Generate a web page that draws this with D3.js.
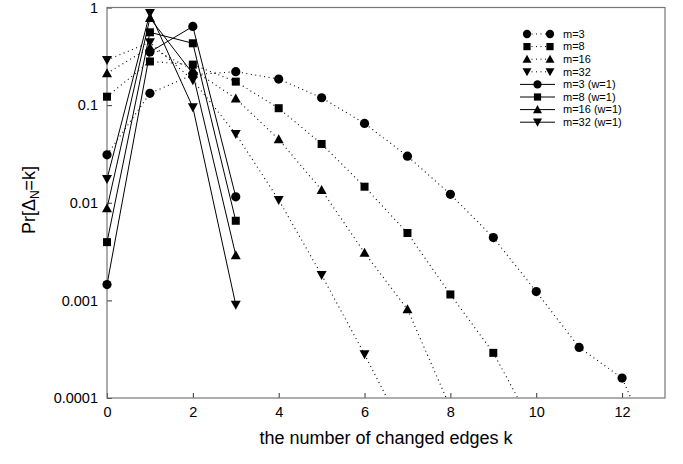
<!DOCTYPE html>
<html><head><meta charset="utf-8">
<script src="https://cdn.jsdelivr.net/npm/d3@7"></script>
<style>body{margin:0;background:#fff}svg{display:block;font-family:"Liberation Sans",Arial,sans-serif}</style>
</head><body><svg id="c" width="683" height="464"></svg>
<script>
// k values (x)
const kDot3  = [0,1,2,3,4,5,6,7,8,9,10,11,12,13];
const vDot3  = [0.031,0.132,0.205,0.22,0.185,0.119,0.065,0.030,0.0122,0.0044,0.00123,0.00033,0.00016,0.000016];
const kDot8  = [0,1,2,3,4,5,6,7,8,9,10];
const vDot8  = [0.122,0.28,0.26,0.174,0.093,0.040,0.0146,0.0049,0.00115,0.00029,0.000045];
const kDot16 = [0,1,2,3,4,5,6,7,8];
const vDot16 = [0.212,0.39,0.23,0.117,0.0446,0.0135,0.00307,0.00081,0.00008];
const kDot32 = [0,1,2,3,4,5,6,7];
const vDot32 = [0.29,0.44,0.18,0.0506,0.0107,0.00182,0.00028,0.000039];
const kW = [0,1,2,3];
const vW3  = [0.00145,0.35,0.64,0.0115];
const vW8  = [0.00395,0.557,0.43,0.00654];
const vW16 = [0.0088,0.78,0.21,0.0029];
const vW32 = [0.0175,0.88,0.095,0.0009];
const xTicks = [0,2,4,6,8,10,12];
const yTicks = [1,0.1,0.01,0.001,0.0001];
const yTickLabels = ["1","0.1","0.01","0.001","0.0001"];
const seriesNames = ["m=3","m=8","m=16","m=32","m=3 (w=1)","m=8 (w=1)","m=16 (w=1)","m=32 (w=1)"];

const series = [
  {name:seriesNames[0], k:kDot3, v:vDot3, sym:"circle", dotted:true},
  {name:seriesNames[1], k:kDot8, v:vDot8, sym:"square", dotted:true},
  {name:seriesNames[2], k:kDot16, v:vDot16, sym:"up", dotted:true},
  {name:seriesNames[3], k:kDot32, v:vDot32, sym:"down", dotted:true},
  {name:seriesNames[4], k:kW, v:vW3, sym:"circle", dotted:false},
  {name:seriesNames[5], k:kW, v:vW8, sym:"square", dotted:false},
  {name:seriesNames[6], k:kW, v:vW16, sym:"up", dotted:false},
  {name:seriesNames[7], k:kW, v:vW32, sym:"down", dotted:false}
];

const L=107, R=665, T=7.5, B=398;
const svg = d3.select("#c");
const x = d3.scaleLinear().domain([0,13]).range([L,R]);
const y = d3.scaleLog().domain([0.0001,1]).range([B,T]);

svg.append("defs").append("clipPath").attr("id","clip")
  .append("rect").attr("x",L).attr("y",T).attr("width",R-L).attr("height",B-T);

// axes
const xa = svg.append("g").attr("transform",`translate(0,${B})`)
  .call(d3.axisBottom(x).tickValues(xTicks).tickSize(-5).tickPadding(9).tickFormat(d3.format("d")));
const ya = svg.append("g").attr("transform",`translate(${L},0)`)
  .call(d3.axisLeft(y).tickValues(yTicks).tickSize(-5).tickPadding(9).tickFormat((d,i)=>yTickLabels[i]));
[xa,ya].forEach(a=>{
  a.select(".domain").remove();
  a.selectAll("line").attr("stroke","#333");
  a.selectAll("text").attr("font-size",14.5).attr("fill","#000").attr("font-family","Liberation Sans, Arial, sans-serif");
});
svg.append("rect").attr("x",L).attr("y",T).attr("width",R-L).attr("height",B-T)
  .attr("fill","none").attr("stroke","#777").attr("stroke-width",1.2);

function sym(g, type, cx, cy, s){
  s = s || 1;
  if(type==="circle") g.append("circle").attr("cx",cx).attr("cy",cy).attr("r",4.6*s).attr("fill","#000");
  else if(type==="square") g.append("rect").attr("x",cx-4*s).attr("y",cy-4*s).attr("width",8*s).attr("height",8*s).attr("fill","#000");
  else if(type==="up") g.append("path").attr("d",`M${cx},${cy-5*s}L${cx+5*s},${cy+4*s}L${cx-5*s},${cy+4*s}Z`).attr("fill","#000");
  else g.append("path").attr("d",`M${cx},${cy+5*s}L${cx+5*s},${cy-4*s}L${cx-5*s},${cy-4*s}Z`).attr("fill","#000");
}

const line = d3.line().x(d=>x(d[0])).y(d=>y(d[1]));
const lg = svg.append("g").attr("clip-path","url(#clip)");
series.forEach(s=>{
  const pts = s.k.map((k,i)=>[k,s.v[i]]);
  lg.append("path").attr("d",line(pts)).attr("fill","none").attr("stroke","#000")
    .attr("stroke-width",s.dotted?1.1:1).attr("stroke-dasharray",s.dotted?"1,3.5":null);
});
const mg = svg.append("g");
series.forEach(s=>{
  s.k.forEach((k,i)=>{ if(s.v[i]>=0.0001) sym(mg, s.sym, x(k), y(s.v[i])); });
});

// legend
const leg = svg.append("g");
series.forEach((s,i)=>{
  const yy = 34 + i*12.6;
  if(s.dotted){
    leg.append("line").attr("x1",527).attr("x2",550).attr("y1",yy).attr("y2",yy)
      .attr("stroke","#000").attr("stroke-dasharray","1,3.5");
    sym(leg,s.sym,527,yy,0.9); sym(leg,s.sym,550,yy,0.9);
  } else {
    leg.append("line").attr("x1",520).attr("x2",555).attr("y1",yy).attr("y2",yy).attr("stroke","#000");
    sym(leg,s.sym,537.5,yy,0.9);
  }
  leg.append("text").attr("x",563).attr("y",yy).attr("dy","0.35em").attr("font-size",11).text(s.name);
});

svg.append("text").attr("x",386).attr("y",444).attr("text-anchor","middle").attr("font-size",18)
  .text("the number of changed edges k");
const yl = svg.append("text").attr("transform","translate(35,200) rotate(-90)").attr("text-anchor","middle").attr("font-size",18);
yl.append("tspan").text("Pr[Δ");
yl.append("tspan").attr("font-size",12).attr("dy",4).text("N");
yl.append("tspan").attr("dy",-4).text("=k]");
</script></body></html>
